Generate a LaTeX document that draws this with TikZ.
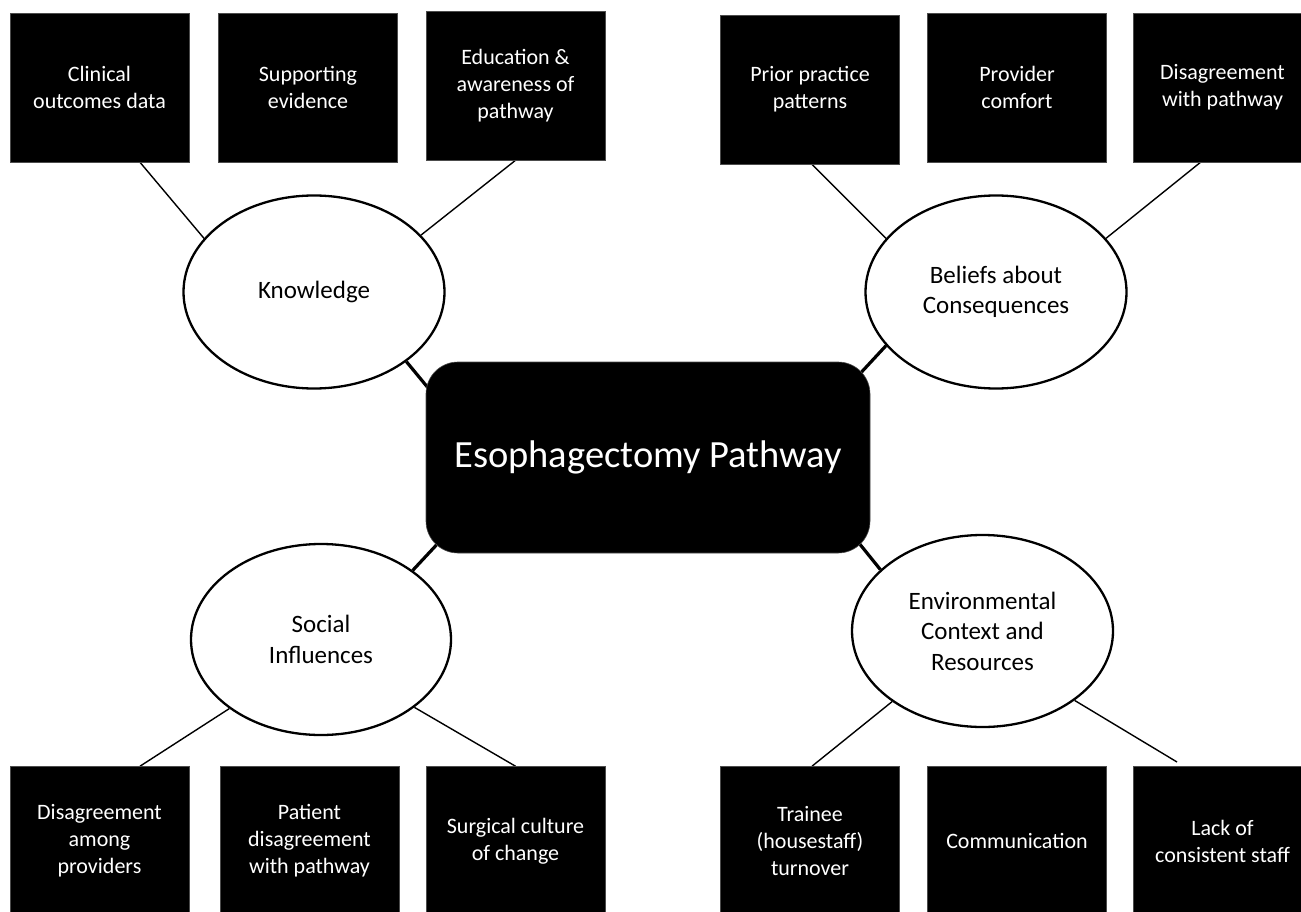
\documentclass[tikz,border=0pt]{standalone}
\usepackage{fontspec}
\setmainfont{Carlito}
\usetikzlibrary{calc,shapes.geometric,backgrounds}
\begin{document}
\begin{tikzpicture}[x=1pt,y=-1pt,
  leaf/.style={rectangle,fill=black,draw=black!70,line width=0.6pt,text=white,
    minimum width=179pt,minimum height=149pt,inner sep=0pt,align=center,
    font=\fontsize{22}{27}\selectfont},
  cat/.style={ellipse,draw=black,line width=2.3pt,fill=white,inner sep=0pt,
    align=center,font=\fontsize{25}{30.5}\selectfont},
  hubbox/.style={rectangle,rounded corners=32pt,fill=black,draw=black!70,line width=0.6pt,
    text=white,minimum width=444pt,minimum height=191pt,inner sep=0pt,
    font=\fontsize{38.5}{46}\selectfont},
  twig/.style={line width=1.4pt,draw=black},
  trunk/.style={line width=3.2pt,draw=black}
]
\useasboundingbox (0,0) rectangle (1301,912);

% centre
\node[hubbox] (c) at (648,457.5) {Esophagectomy Pathway};

% categories
\node[cat,minimum width=261pt,minimum height=193pt] (kn) at (314,292) {Knowledge};
\node[cat,minimum width=261pt,minimum height=193pt] (be) at (996,292) {Beliefs about\\Consequences};
\node[cat,minimum width=260pt,minimum height=191pt] (so) at (321,639.5) {Social\\Influences};
\node[cat,minimum width=261pt,minimum height=192pt] (en) at (982.5,631) {Environmental\\Context and\\Resources};

% top boxes
\node[leaf] (A) at (99.5,87.5) {Clinical\\outcomes data};
\node[leaf] (B) at (308,87.5) {Supporting\\evidence};
\node[leaf] (C) at (515.5,85.5) {Education \&\\awareness of\\pathway};
\node[leaf] (D) at (810,89.5) {Prior practice\\patterns};
\node[leaf] (E) at (1017,87.5) {Provider\\comfort};
\node[leaf] (F) at (1222.5,87.5) {Disagreement\\with pathway};

% bottom boxes
\node[leaf] (G) at (99.5,841) {Disagreement\\among\\providers};
\node[leaf] (H) at (309.5,841) {Patient\\disagreement\\with pathway};
\node[leaf] (I) at (515.5,841) {Surgical culture\\of change};
\node[leaf] (J) at (810,841) {Trainee\\(housestaff)\\turnover};
\node[leaf] (K) at (1017,841) {Communication};
\node[leaf] (L) at (1222.5,841) {Lack of\\consistent staff};

\coordinate (Lend) at (1177,762);

\begin{pgfonlayer}{background}
  % knowledge
  \draw[twig] (kn.154) -- ($(A.south)+(40.5,0)$);
  \draw[twig] ($(kn.north)+(-5,0)$) -- ($(kn.north)+(-5,0)$ |- B.south);
  \draw[twig] (kn.28) -- (C.south);
  % beliefs
  \draw[twig] (be.154) -- ($(D.south)+(2,0)$);
  \draw[twig] ($(be.north)+(-2,0)$) -- ($(be.north)+(-2,0)$ |- E.south);
  \draw[twig] (be.26) -- ($(F.south)+(-22,0)$);
  % social
  \draw[twig] (so.217) -- ($(G.north)+(40.5,0)$);
  \draw[twig] ($(so.south)+(-7,0)$) -- ($(so.south)+(-7,0)$ |- H.north);
  \draw[twig] (so.-36) -- (I.north);
  % environment
  \draw[twig] (en.218) -- ($(J.north)+(2,0)$);
  \draw[twig] ($(en.south)+(11.5,0)$) -- ($(en.south)+(11.5,0)$ |- K.north);
  \draw[twig] (en.-37) -- (Lend);
  % trunks to the centre
  \draw[trunk] (kn.-37) -- ($(c.north west)+(8,33)$);
  \draw[trunk] (be.206) -- ($(c.north east)+(-14,16)$);
  \draw[trunk] (so.37) -- ($(c.south west)+(16,-14)$);
  \draw[trunk] (en.149) -- ($(c.south east)+(-16,-16)$);
\end{pgfonlayer}
\end{tikzpicture}
\end{document}
